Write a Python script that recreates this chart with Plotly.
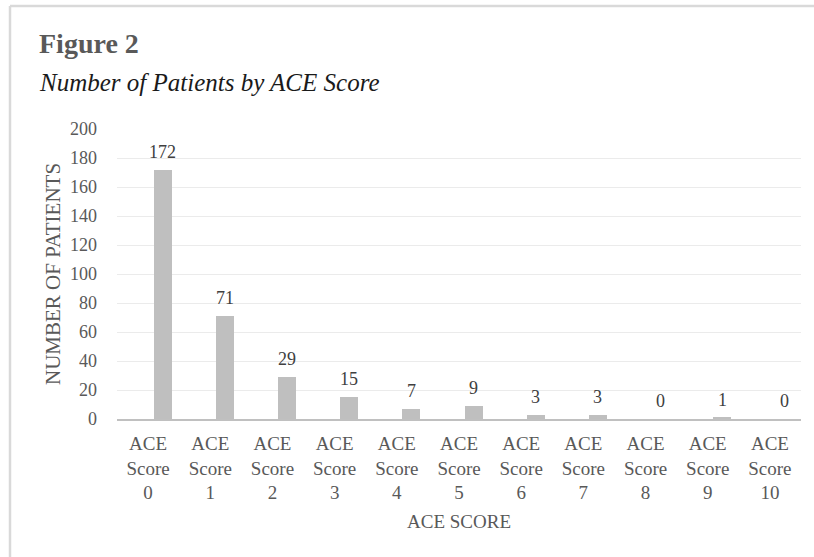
import plotly.graph_objects as go

# ---- data ----
scores = list(range(11))
category_labels = [f"ACE<br>Score<br>{s}" for s in scores]
patients = [172, 71, 29, 15, 7, 9, 3, 3, 0, 1, 0]
y_ticks = list(range(0, 201, 20))

# ---- layout constants (pixels) ----
W, H = 814, 557
L, R, T, B = 117, 13, 129, 138
PW, PH = W - L - R, H - T - B


def px_x(p):
    return (p - L) / PW


def px_y(p):
    return (H - B - p) / PH


SERIF = '"Liberation Serif", "Times New Roman", Times, serif'
TICK_GRAY = "#595959"

fig = go.Figure()

fig.add_trace(go.Bar(
    x=scores,
    y=patients,
    width=0.29,
    offset=0.09,
    marker=dict(color="#bfbfbf", line=dict(width=0)),
    hoverinfo="skip",
))

annotations = []
# value labels above each bar
for s, v in zip(scores, patients):
    annotations.append(dict(
        x=s + 0.235, y=v, xref="x", yref="y",
        text=str(v), showarrow=False, yanchor="middle", yshift=18,
        font=dict(family=SERIF, size=18, color="#404040"),
    ))

# heading and caption
annotations.append(dict(
    x=px_x(37), y=px_y(44), xref="paper", yref="paper",
    text="<b>Figure 2</b>", showarrow=False, xanchor="left", yanchor="middle",
    font=dict(family=SERIF, size=28, color="#595959"),
))
annotations.append(dict(
    x=px_x(37), y=px_y(83), xref="paper", yref="paper",
    text="<i>Number of Patients by ACE Score</i>", showarrow=False,
    xanchor="left", yanchor="middle",
    font=dict(family=SERIF, size=25, color="#1a1a1a"),
))
# axis titles
annotations.append(dict(
    x=px_x(53), y=0.5, xref="paper", yref="paper",
    text="NUMBER OF PATIENTS", showarrow=False, textangle=-90,
    xanchor="center", yanchor="middle",
    font=dict(family=SERIF, size=21, color=TICK_GRAY),
))
annotations.append(dict(
    x=0.5, y=px_y(521), xref="paper", yref="paper",
    text="ACE SCORE", showarrow=False, xanchor="center", yanchor="middle",
    font=dict(family=SERIF, size=19, color=TICK_GRAY),
))

# light frame on the top and left edges
frame = "#d9d9d9"
shapes = [
    dict(type="line", xref="paper", yref="paper",
         x0=px_x(10), x1=px_x(W + 5), y0=px_y(6), y1=px_y(6),
         line=dict(color=frame, width=2.5)),
    dict(type="line", xref="paper", yref="paper",
         x0=px_x(10), x1=px_x(10), y0=px_y(6), y1=px_y(H + 5),
         line=dict(color=frame, width=2.5)),
]

fig.update_layout(
    width=W, height=H,
    margin=dict(l=L, r=R, t=T, b=B, autoexpand=False),
    paper_bgcolor="white", plot_bgcolor="white",
    showlegend=False,
    font=dict(family=SERIF, color=TICK_GRAY),
    annotations=annotations,
    shapes=shapes,
    bargap=0,
    xaxis=dict(
        range=[-0.5, 10.5],
        tickmode="array", tickvals=scores, ticktext=category_labels,
        showgrid=False, zeroline=False,
        showline=True, linecolor="#c0c0c0", linewidth=2,
        ticks="", ticklabelstandoff=6,
        tickfont=dict(family=SERIF, size=19, color=TICK_GRAY),
        fixedrange=True,
    ),
    yaxis=dict(
        range=[0, 200],
        tickmode="array", tickvals=y_ticks,
        showgrid=True, gridcolor="#ebebeb", gridwidth=1,
        zeroline=False, showline=False, ticks="",
        ticklabelstandoff=19,
        tickfont=dict(family=SERIF, size=18, color=TICK_GRAY),
        fixedrange=True,
    ),
)

fig.write_html("out.html")
